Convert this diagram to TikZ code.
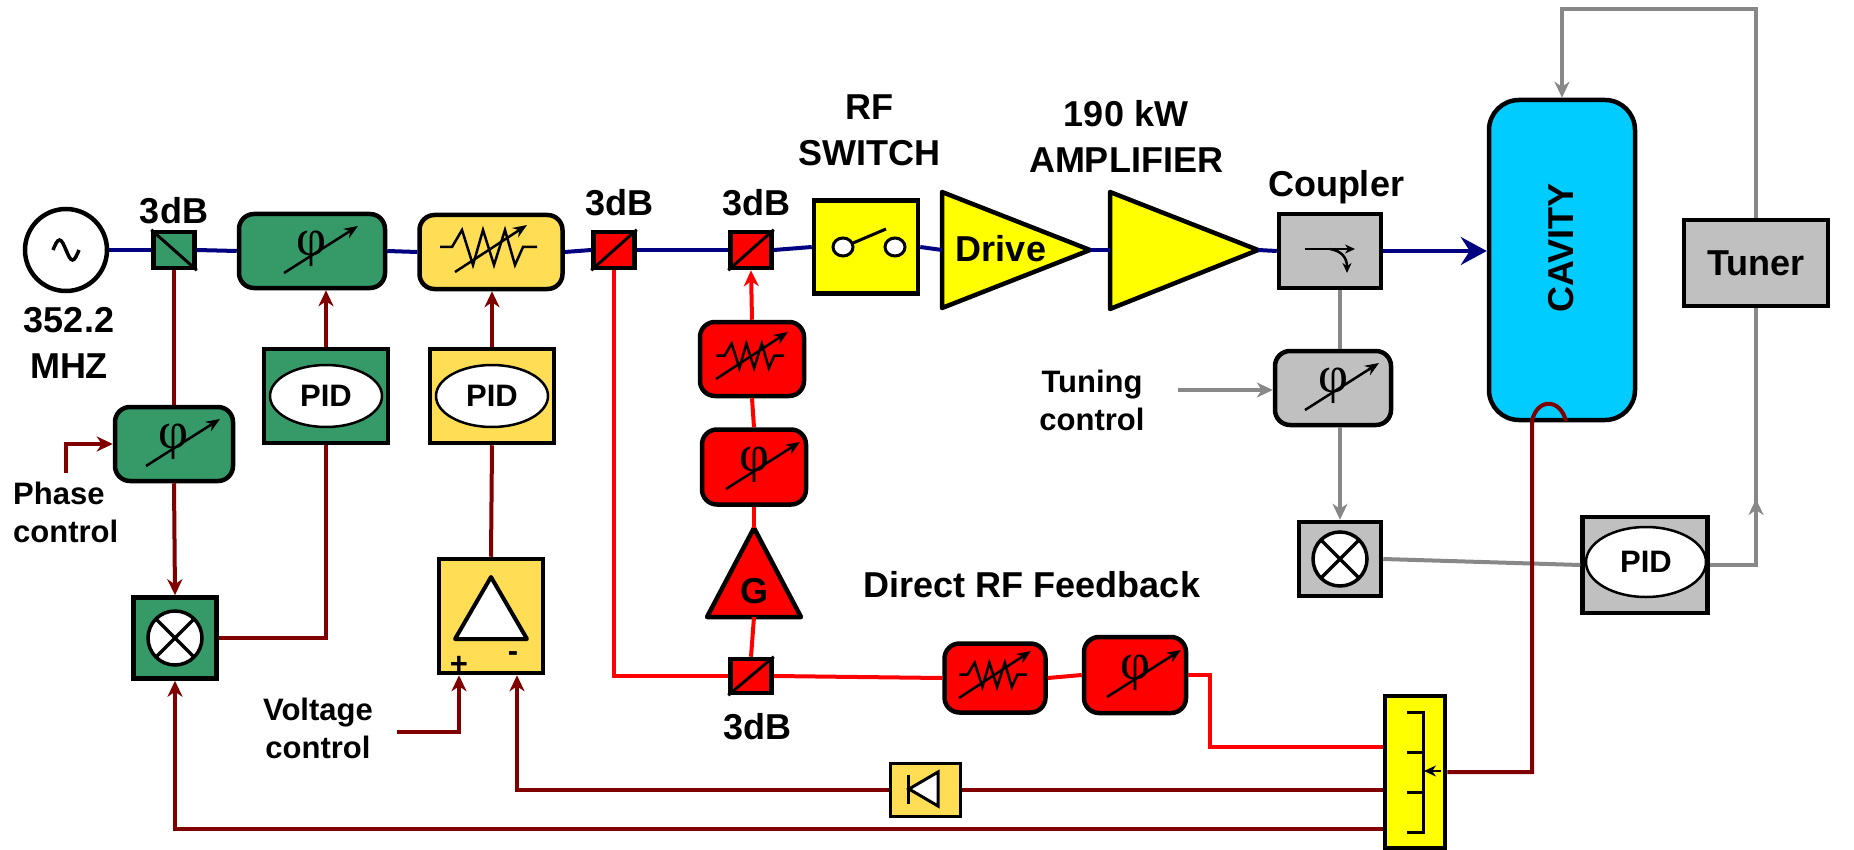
\documentclass[tikz,border=0pt]{standalone}
\usepackage{fontspec}
\setmainfont{Liberation Sans}
\newfontfamily\phifont{Liberation Serif}
\usetikzlibrary{shapes.geometric}
\usetikzlibrary{arrows.meta}
\definecolor{dgreen}{RGB}{54,153,104}
\definecolor{lyellow}{RGB}{255,221,85}
\definecolor{byellow}{RGB}{255,255,0}
\definecolor{lgray}{RGB}{192,192,192}
\definecolor{lngray}{RGB}{136,136,136}
\definecolor{cyanc}{RGB}{0,204,255}
\definecolor{navyc}{RGB}{0,0,128}
\definecolor{maroonc}{RGB}{128,0,0}
\tikzstyle{bigtxt}=[font=\bfseries\fontsize{36}{46}\selectfont, inner sep=0pt]
\tikzstyle{smtxt}=[font=\bfseries\fontsize{31}{38}\selectfont, inner sep=0pt]
\tikzstyle{blk}=[draw, line width=4.5pt, inner sep=0pt, bigtxt]
\tikzstyle{rblk}=[blk, rounded corners=15pt]
\tikzstyle{split}=[blk, minimum width=41pt, minimum height=36pt]
\tikzstyle{pidell}=[draw, ellipse, line width=2.5pt, fill=white, inner sep=0pt, smtxt]
\tikzstyle{rfline}=[draw=navyc, line width=4pt]
\tikzstyle{mline}=[draw=maroonc, line width=4pt]
\tikzstyle{rline}=[draw=red, line width=4pt]
\tikzstyle{gline}=[draw=lngray, line width=4pt]
\tikzstyle{toarrow}=[-{Stealth[length=16pt,width=15pt,inset=5pt]}]
\tikzstyle{sym}=[line width=2.5pt]
% phase shifter: phi with a slanted arrow
\newcommand{\phsym}[1]{%
  \begin{scope}[shift={(#1.center)}]
    \node[font=\phifont\fontsize{52}{52}\selectfont, inner sep=0pt] at (0,-2) {φ};
    \draw[sym, -{Stealth[length=14pt,width=11pt]}] (-28,22) -- (46,-25);
  \end{scope}}
% attenuator: zigzag with a slanted arrow
\newcommand{\attsym}[2]{%
  \begin{scope}[shift={(#1.center)}]
    \draw[sym, line join=miter, scale=#2] (-51,-5) -- (-39,-5) -- (-29,-22) -- (-18,13) -- (-8,-22) -- (3,13)
      -- (14,-22) -- (24,13) -- (32,-5) -- (46,-5);
    \draw[sym, -{Stealth[length=14pt,width=11pt]}] (-36,20) -- (36,-27);
  \end{scope}}
% mixer: circle with a cross
\newcommand{\mixsym}[1]{%
  \begin{scope}[shift={(#1.center)}]
    \draw[line width=3.5pt, fill=white] (0,0) circle (27pt);
    \draw[line width=3.5pt] (-19,-19) -- (19,19) (-19,19) -- (19,-19);
  \end{scope}}

\begin{document}
\begin{tikzpicture}[x=1pt,y=-1pt]
\useasboundingbox (0,0) rectangle (1854,850);

% ---- main RF chain ----
\node[blk, circle, minimum size=82pt, fill=white] (osc) at (66,250) {};
\draw[line width=3.5pt] (-13,250) ++(66,0) sin ++(6.5,-10) cos ++(6.5,10) sin ++(6.5,10) cos ++(6.5,-10);
\node[bigtxt, align=center] at (69,343) {352.2\\MHZ};
\node[split, fill=dgreen] (sp1) at (174,250) {};
\draw[line width=3pt] (sp1.north west) -- (sp1.south east);
\node[bigtxt] at (174,211) {3dB};
\node[rblk, fill=dgreen, minimum width=146pt, minimum height=74pt] (phg) at (312,251) {};
\phsym{phg}
\node[rblk, fill=lyellow, minimum width=143pt, minimum height=74pt] (att) at (491,252) {};
\attsym{att}{1}
\node[split, fill=red] (sp2) at (614,250) {};
\draw[line width=3pt] (sp2.south west) -- (sp2.north east);
\node[bigtxt] at (619,203) {3dB};
\node[split, fill=red] (sp3) at (751,250) {};
\draw[line width=3pt] (sp3.south west) -- (sp3.north east);
\node[bigtxt] at (756,203) {3dB};
\node[blk, fill=byellow, minimum width=104pt, minimum height=93pt] (sw) at (866,247) {};
\draw[line width=3pt, fill=white] (843,247) ellipse (10pt and 9pt) (895,247) ellipse (10pt and 9pt);
\draw[line width=3pt] (853,243) -- (886,229);
\node[bigtxt, align=center] at (869,130) {RF\\SWITCH};
\coordinate (drvl) at (942,250);
\coordinate (drvr) at (1090,250);
\draw[line width=4.5pt, fill=byellow, line join=round] (942,192) -- (drvr) -- (942,308) -- cycle;
\node[bigtxt] at (1001,249) {Drive};
\coordinate (ampl) at (1110,250);
\coordinate (ampr) at (1258,250);
\draw[line width=4.5pt, fill=byellow, line join=round] (1110,192) -- (ampr) -- (1110,309) -- cycle;
\node[bigtxt, align=center] at (1126,136) {190 kW\\AMPLIFIER};
\node[blk, fill=lgray, minimum width=102pt, minimum height=74pt] (cpl) at (1330,251) {};
\draw[sym, -{Stealth[length=10pt,width=9pt]}] (1305,249) -- (1355,249);
\draw[sym, -{Stealth[length=10pt,width=9pt]}] (1330,249) .. controls (1342,251) and (1347,258) .. (1347,273);
\node[bigtxt] at (1336,187) {Coupler};
\node[blk, fill=cyanc, rounded corners=30pt, minimum width=146pt, minimum height=320pt] (cav) at (1562,260) {};
\node[bigtxt, rotate=90] at (1561,248) {CAVITY};
\node[blk, fill=lgray, minimum width=144pt, minimum height=86pt] (tun) at (1756,263) {Tuner};

\draw[rfline] (osc.east) -- (sp1.west);
\draw[rfline] (sp1.east) -- (phg.west);
\draw[rfline] (phg.east) -- (att.west);
\draw[rfline] (att.east) -- (sp2.west);
\draw[rfline] (sp2.east) -- (sp3.west);
\draw[rfline] (sp3.east) -- (sw.west);
\draw[rfline] (sw.east) -- (drvl);
\draw[rfline] (drvr) -- (ampl);
\draw[rfline] (ampr) -- (cpl.west);
\draw[rfline, -{Stealth[length=26pt,width=28pt,inset=9pt]}] (cpl.east) -- (cav.west |- cpl.east);

% ---- tuning loop ----
\node[rblk, fill=lgray, minimum width=116pt, minimum height=74pt] (pht) at (1333,388) {};
\phsym{pht}
\node[blk, fill=lgray, minimum width=82pt, minimum height=74pt] (mixt) at (1340,559) {};
\mixsym{mixt}
\node[blk, fill=lgray, minimum width=125pt, minimum height=96pt] (pidt) at (1645,565) {};
\node[pidell, minimum width=120pt, minimum height=70pt] at (1646,562) {PID};
\node[smtxt, align=center] (tc) at (1092,400) {Tuning\\control};
\coordinate (tcin) at (1178,390);
\draw[gline, toarrow] (tcin) -- (tcin -| pht.west);
\draw[gline] (cpl.south -| mixt) -- (pht.north -| mixt);
\draw[gline, toarrow] (pht.south -| mixt) -- (mixt.north);
\draw[gline] (mixt.east) -- (pidt.west);
\draw[gline] (pidt.east) -| (tun.south);
\draw[gline, toarrow] (pidt.east -| tun.south) -- ++(0,-66);
\draw[gline, toarrow] (tun.north) -- (tun.north |- 0,9) -| (cav.north);

% ---- direct RF feedback ----
\node[split, fill=red, minimum height=34pt] (sp4) at (751,676) {};
\draw[line width=3pt] (sp4.south west) -- (sp4.north east);
\node[bigtxt] at (757,727) {3dB};
\coordinate (gtop) at (754,528);
\coordinate (gbot) at (754,617);
\draw[line width=4.5pt, fill=red, line join=round] (gtop) -- (801,617) -- (707,617) -- cycle;
\node[bigtxt] at (754,591) {G};
\node[rblk, fill=red, minimum width=104pt, minimum height=75pt] (phr) at (754,467) {};
\phsym{phr}
\node[rblk, fill=red, minimum width=104pt, minimum height=74pt] (atr) at (752,359) {};
\attsym{atr}{0.7}
\node[rblk, fill=red, minimum width=101pt, minimum height=69pt] (atr2) at (995,678) {};
\attsym{atr2}{0.7}
\node[rblk, fill=red, minimum width=102pt, minimum height=76pt] (phr2) at (1135,675) {};
\phsym{phr2}
\node[bigtxt] at (1032,585) {Direct RF Feedback};
\node[blk, fill=byellow, minimum width=60pt, minimum height=152pt] (smp) at (1415,772) {};
\draw[line width=3pt] (1407,712) -| (1423,832) -- (1407,832) (1407,752) -- (1423,752) (1407,792) -- (1423,792);
\draw[line width=2pt, -{Stealth[length=12pt,width=11pt]}] (1441,771) -- (1424,771);

\draw[rline] (sp2.south) |- (sp4.west);
\draw[rline] (sp4.north) -- (gbot);
\draw[rline] (gtop) -- (phr.south);
\draw[rline] (phr.north) -- (atr.south);
\draw[rline, toarrow] (atr.north) -- (sp3.south);
\draw[rline] (sp4.east) -- (atr2.west);
\draw[rline] (atr2.east) -- (phr2.west);
\draw[rline] (phr2.east) -- ++(22,0) |- (smp.west |- 0,747);

% ---- phase and amplitude loops ----
\node[rblk, fill=dgreen, minimum width=118pt, minimum height=74pt] (phm) at (174,444) {};
\phsym{phm}
\node[blk, fill=dgreen, minimum width=83pt, minimum height=81pt] (mixg) at (175,638) {};
\mixsym{mixg}
\node[blk, fill=dgreen, minimum width=124pt, minimum height=94pt] (pidg) at (326,396) {};
\node[pidell, minimum width=112pt, minimum height=62pt] at (pidg.center) {PID};
\node[blk, fill=lyellow, minimum width=124pt, minimum height=94pt] (pidy) at (492,396) {};
\node[pidell, minimum width=112pt, minimum height=62pt] at (pidy.center) {PID};
\node[blk, fill=lyellow, minimum width=104pt, minimum height=114pt] (dif) at (491,616) {};
\begin{scope}[shift={(dif.center)}]
  \draw[line width=4pt, fill=white, line join=round] (0,-39) -- (36,23) -- (-36,23) -- cycle;
  \node[smtxt] at (-32,49) {+};
  \node[smtxt] at (22,41) {-};
\end{scope}
\node[blk, line width=3pt, fill=lyellow, minimum width=70pt, minimum height=53pt] (dio) at (925,790) {};
\draw[line width=3pt] (908,775) -- (908,804);
\draw[line width=3pt, fill=white, line join=miter] (909,789) -- (938,772) -- (938,806) -- cycle;
\node[smtxt, align=left, anchor=west] at (13,512) {Phase\\control};
\node[smtxt, align=center] at (318,728) {Voltage\\control};
\coordinate (pcin) at (66,473);
\coordinate (vcin) at (397,732);

\draw[mline] (sp1.south) -- (phm.north);
\draw[mline, toarrow] (phm.south) -- (mixg.north);
\draw[mline, toarrow] (pcin) |- (phm.west);
\draw[mline] (mixg.east) -| (pidg.south);
\draw[mline, toarrow] (pidg.north) -- (pidg.north |- phg.south);
\draw[mline, toarrow] (pidy.north) -- (pidy.north |- att.south);
\draw[mline] (dif.north) -- (pidy.south);
\draw[mline, toarrow] (vcin) -| ([xshift=-32pt]dif.south);
\draw[mline] (smp.west |- 0,790) -- (dio.east);
\draw[mline, toarrow] (dio.west) -| ([xshift=26pt]dif.south);
\draw[mline, toarrow] (smp.west |- 0,829) -| (mixg.south);
\draw[mline] (smp.east) -| (1532,421) .. controls (1537,398) and (1560,398) .. (1566,421);
\end{tikzpicture}
\end{document}
